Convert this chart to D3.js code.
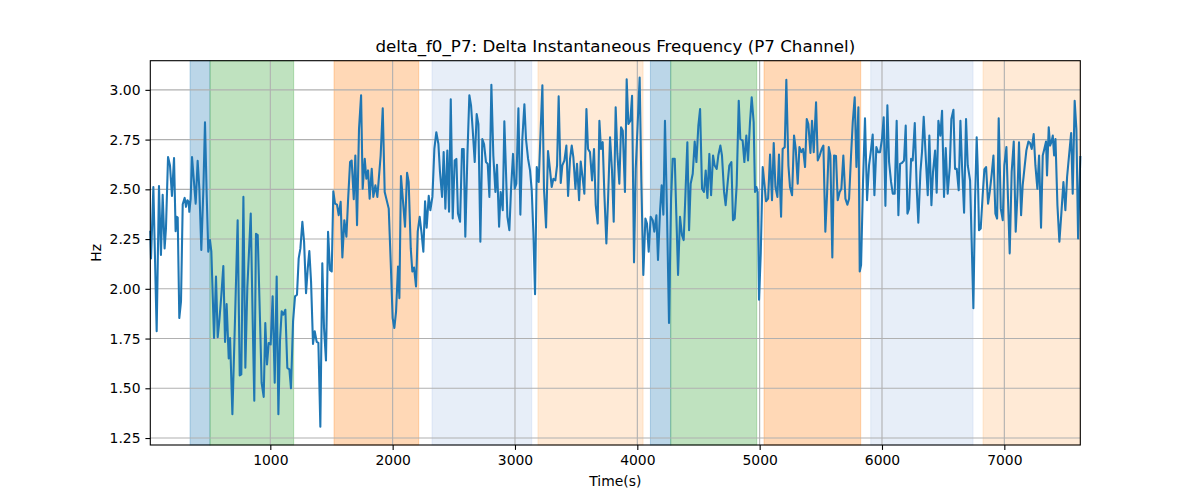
<!DOCTYPE html>
<html><head><meta charset="utf-8">
<script src="https://cdn.jsdelivr.net/npm/d3@7"></script>
<style>body{margin:0;background:#fff}svg{font-family:"DejaVu Sans",sans-serif}</style>
</head><body><svg id="c" width="1200" height="500"></svg>
<script>
const timeS = [19,25,44,71,90,106,120,136,147,164,180,196,213,226,235,243,256,270,284,300,311,322,333,338,349,360,374,390,406,420,436,453,466,480,493,507,518,540,556,570,583,600,616,630,643,660,671,690,711,733,750,763,780,796,812,840,856,869,883,897,916,929,946,959,973,987,
1003,1019,1036,1052,1066,1079,1093,1107,1123,1139,1156,1169,1186,1202,1218,1232,1246,1262,1276,1292,1306,1319,1333,1349,1363,1379,1393,1409,1425,1439,1455,1472,1488,1502,1515,1529,1545,1559,1575,1589,1605,1622,1635,1652,1665,1682,1695,1709,1725,1742,1755,1772,1785,1799,1812,1829,1842,1859,1875,1889,1902,1919,1935,
1968,1984,2000,2014,2028,2044,2055,2068,2085,2101,2118,2131,2148,2161,2175,2191,2205,2221,2235,2251,2265,2278,2295,2308,2325,2341,2357,2374,2387,2404,2417,2431,2447,2461,2475,2491,2507,2521,2534,2551,2567,2581,2594,2611,2627,2641,2654,2671,2687,2701,2717,2733,2747,2763,2777,2791,2807,2823,2840,2853,2870,2883,2900,2913,
2924,2938,2954,2968,2984,2998,3011,3028,3044,3060,3077,3090,3107,3123,3137,3150,3164,3178,3194,3210,3224,3237,3254,3270,3284,3300,3314,3330,3344,3357,3374,3387,3404,3420,3434,3450,3464,3477,3494,3507,3524,3537,3554,3567,3584,3597,3613,3630,3646,3660,3676,3690,3703,3717,3731,3747,3761,3777,3793,3807,3823,3837,3853,3867,3881,
3899,3913,3927,3943,3957,3973,3987,4003,4019,4033,4049,4066,4079,4093,4109,4126,4139,4156,4169,4186,4199,4213,4226,4243,4259,4276,4289,4306,4319,4333,4349,4365,4379,4393,4409,4423,4436,4453,4469,4483,4499,4513,4529,4545,4559,4573,4589,4603,4619,4632,4649,4662,4679,4692,4709,4722,4739,4752,4769,4782,4796,4812,4829,4842,
4861,4875,4891,4905,4921,4935,4951,4962,4973,4984,4995,5009,5025,5039,5052,5069,5085,5101,5115,5129,5145,5158,5175,5188,5205,5218,5235,5248,5265,5281,5295,5311,5325,5341,5355,5371,5385,5398,5415,5428,5442,5461,5475,5491,5507,5521,5537,5551,5565,5578,5594,5608,5624,5638,5654,5668,5684,5701,5717,5731,5747,5761,5777,5791,5807,5818,
5829,5845,5861,5878,5894,5908,5924,5938,5954,5968,5984,6000,6014,6028,6044,6058,6074,6088,6104,6120,6134,6148,6164,6180,6194,6208,6221,6238,6251,6268,6284,6297,6314,6327,6341,6357,6374,6387,6404,6417,6434,6447,6461,6477,6491,6507,6521,6537,6554,6567,6584,6597,6611,6627,6641,6654,6671,6687,6701,6720,6733,6747,6761,6774,
6782,6793,6807,6823,6837,6851,6867,6881,6897,6911,6927,6941,6954,6971,6987,7000,7017,7030,7044,7060,7077,7093,7107,7120,7137,7150,7167,7180,7197,7210,7224,7240,7254,7270,7284,7300,7314,7327,7341,7349,7363,7374,7385,7396,7407,7418,7434,7450,7467,7483,7499,7513,7529,7546,7559,7575,7589,7603,7621];

const hz = [2.287,2.153,2.512,1.787,2.517,2.17,2.473,2.203,2.303,2.662,2.62,2.467,2.657,2.29,2.362,2.358,1.853,1.937,2.425,2.457,2.412,2.445,2.437,2.387,2.453,2.662,2.553,2.428,2.643,2.503,2.195,2.503,2.837,2.47,2.187,2.245,2.187,1.753,2.062,1.757,1.837,1.97,2.115,1.733,1.923,1.65,1.753,1.37,1.837,2.345,1.565,1.57,2.462,1.603,2.003,2.378,1.837,1.437,2.277,2.27,1.837,1.528,1.457,1.828,1.62,1.728,
1.72,1.962,1.528,2.062,1.37,1.737,1.887,1.87,1.895,1.603,1.595,1.5,1.837,1.962,1.97,2.153,2.203,2.337,2.237,1.978,2.103,2.19,2.037,1.723,1.787,1.733,1.728,1.307,2.128,1.803,1.64,2.287,2.095,2.087,2.49,2.428,2.423,2.37,2.437,2.158,2.345,2.262,2.437,2.637,2.645,2.45,2.67,2.32,2.803,2.973,2.503,2.653,2.553,2.595,2.453,2.603,2.462,2.52,2.462,2.57,2.67,2.907,2.487,
2.403,2.137,1.853,1.803,1.887,2.112,1.953,2.567,2.437,2.312,2.583,2.537,2.203,2.087,2.107,2.012,2.287,2.362,2.287,2.187,2.44,2.307,2.467,2.395,2.462,2.703,2.787,2.728,2.587,2.462,2.687,2.403,2.695,2.387,2.953,2.353,2.645,2.653,2.378,2.337,2.703,2.703,2.262,2.67,2.973,2.92,2.803,2.637,2.878,2.828,2.237,2.753,2.728,2.637,2.628,2.462,3.025,2.67,2.487,2.623,2.312,2.487,2.395,2.842,
2.637,2.362,2.295,2.503,2.678,2.503,2.528,2.907,2.373,2.753,2.928,2.753,2.653,2.595,2.495,2.287,1.973,2.612,2.537,2.803,3.023,2.503,2.308,2.692,2.612,2.512,2.553,2.545,2.62,2.967,2.532,2.62,2.645,2.72,2.467,2.653,2.72,2.662,2.503,2.628,2.445,2.64,2.553,2.478,2.903,2.703,2.687,2.545,2.703,2.42,2.328,2.845,2.703,2.737,2.47,2.228,2.453,2.762,2.595,2.337,2.912,2.678,2.528,2.812,2.795,
2.487,3.053,2.828,2.845,2.97,2.133,2.603,2.828,3.062,2.537,2.07,2.353,2.328,2.187,2.362,2.345,2.287,2.37,2.145,2.395,2.52,2.373,2.845,2.37,1.828,2.453,2.653,2.653,2.37,2.07,2.362,2.27,2.245,2.47,2.737,2.295,2.528,2.578,2.74,2.637,2.82,2.903,2.503,2.487,2.595,2.457,2.678,2.47,2.67,2.62,2.603,2.67,2.72,2.67,2.487,2.42,2.537,2.62,2.637,2.345,2.353,2.52,2.945,2.753,
2.745,2.637,2.77,2.645,2.837,2.962,2.837,2.487,2.512,2.487,1.945,2.178,2.612,2.528,2.44,2.453,2.675,2.445,2.733,2.512,2.462,2.675,2.362,2.703,2.712,3.05,2.62,2.512,2.47,2.77,2.703,2.528,2.712,2.687,2.703,2.612,2.853,2.828,2.683,2.845,2.687,2.937,2.645,2.67,2.703,2.72,2.287,2.478,2.712,2.67,2.157,2.67,2.667,2.445,2.487,2.503,2.67,2.453,2.423,2.453,2.67,2.837,2.962,2.612,2.912,2.087,
2.12,2.537,2.857,2.445,2.62,2.687,2.775,2.47,2.712,2.687,2.687,2.753,2.862,2.417,2.923,2.637,2.537,2.478,2.478,2.845,2.37,2.628,2.633,2.645,2.82,2.378,2.403,2.653,2.645,2.833,2.503,2.332,2.587,2.687,2.865,2.67,2.47,2.77,2.42,2.587,2.695,2.483,2.845,2.77,2.895,2.462,2.707,2.478,2.612,2.853,2.9,2.603,2.603,2.495,2.845,2.62,2.382,2.853,2.62,2.545,2.237,1.903,2.453,2.762,
2.62,2.295,2.303,2.47,2.6,2.612,2.428,2.487,2.578,2.67,2.378,2.353,2.857,2.403,2.345,2.62,2.712,2.453,2.178,2.587,2.74,2.287,2.47,2.737,2.37,2.52,2.62,2.695,2.74,2.733,2.703,2.778,2.62,2.503,2.67,2.307,2.67,2.703,2.74,2.57,2.812,2.72,2.737,2.77,2.67,2.753,2.42,2.237,2.387,2.537,2.395,2.562,2.67,2.783,2.478,2.945,2.803,2.253,2.662];

const bandStart = [344,507,1521,2322,3188,4107,4273,5036,5908,6826];
const bandEnd   = [507,1191,2213,3137,4047,4273,4976,5826,6744,7621];
const bandColor = ["#1f77b4","#2ca02c","#ff7f0e","#aec7e8","#ffbb78","#1f77b4","#2ca02c","#ff7f0e","#aec7e8","#ffbb78"];

const xTicks = [1000,2000,3000,4000,5000,6000,7000];
const yTicks = [1.25,1.50,1.75,2.00,2.25,2.50,2.75,3.00];
const titleText = "delta_f0_P7: Delta Instantaneous Frequency (P7 Channel)";
const xLabel = "Time(s)";
const yLabel = "Hz";

const L=150.3, R=1080.3, T=60.7, B=445;
const svg = d3.select("#c");
const x = d3.scaleLinear().domain([19,7621]).range([L,R]);
const y = d3.scaleLinear().domain([1.215,3.1465]).range([B,T]);

// bands
const bands = bandStart.map((s,i)=>({s,e:bandEnd[i],c:bandColor[i]}));
svg.append("g").selectAll("rect").data(bands).join("rect")
  .attr("x",d=>x(d.s)).attr("width",d=>x(d.e)-x(d.s))
  .attr("y",T).attr("height",B-T)
  .attr("fill",d=>d.c).attr("fill-opacity",0.3)
  .attr("stroke",d=>d.c).attr("stroke-opacity",0.3).attr("stroke-width",1);

// grid
const grid = svg.append("g").attr("stroke","#b0b0b0").attr("stroke-width",1.1);
grid.selectAll("line.gx").data(xTicks).join("line")
  .attr("x1",d=>x(d)).attr("x2",d=>x(d)).attr("y1",T).attr("y2",B);
grid.selectAll("line.gy").data(yTicks).join("line")
  .attr("y1",d=>y(d)).attr("y2",d=>y(d)).attr("x1",L).attr("x2",R);

// line
const pts = timeS.map((t,i)=>[t,hz[i]]);
svg.append("path").datum(pts)
  .attr("fill","none").attr("stroke","#1f77b4").attr("stroke-width",2.08)
  .attr("stroke-linejoin","round").attr("stroke-linecap","square")
  .attr("d",d3.line().x(d=>x(d[0])).y(d=>y(d[1])));

// axes
const xa = svg.append("g").attr("transform",`translate(0,${B})`)
  .call(d3.axisBottom(x).tickValues(xTicks).tickFormat(d3.format("d")).tickSize(4.9).tickPadding(4.9));
const ya = svg.append("g").attr("transform",`translate(${L},0)`)
  .call(d3.axisLeft(y).tickValues(yTicks).tickFormat(d3.format(".2f")).tickSize(4.9).tickPadding(4.9));
[xa,ya].forEach(a=>{
  a.select(".domain").remove();
  a.selectAll("line").attr("stroke","#000").attr("stroke-width",1.1);
  a.selectAll("text").attr("font-family","DejaVu Sans").attr("font-size",13.9).attr("fill","#000");
});

// spines
svg.append("rect").attr("x",L).attr("y",T).attr("width",R-L).attr("height",B-T)
  .attr("fill","none").attr("stroke","#000").attr("stroke-width",1.1);

svg.append("text").attr("x",(L+R)/2).attr("y",52).attr("text-anchor","middle")
  .attr("font-size",16.7).text(titleText);
svg.append("text").attr("x",(L+R)/2).attr("y",486).attr("text-anchor","middle")
  .attr("font-size",13.9).text(xLabel);
svg.append("text").attr("transform",`translate(101,${(T+B)/2}) rotate(-90)`).attr("text-anchor","middle")
  .attr("font-size",13.9).text(yLabel);
</script></body></html>
